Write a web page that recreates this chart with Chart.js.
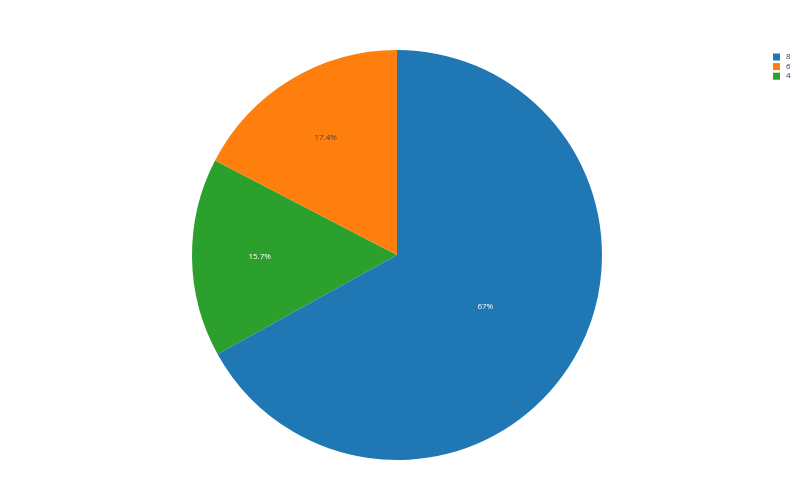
<!DOCTYPE html>
<html>
<head>
<meta charset="utf-8">
<script src="https://cdn.jsdelivr.net/npm/chart.js@4/dist/chart.umd.min.js"></script>
<style>
html,body{margin:0;padding:0;background:#fff;}
#wrap{width:800px;height:500px;position:relative;}
</style>
</head>
<body>
<div id="wrap"><canvas id="c" width="800" height="500"></canvas></div>
<script>
const categories = ["8", "6", "4"];
const values = [4943.4, 1283.2, 1156.5];
const colors = ["#1f77b4", "#ff7f0e", "#2ca02c"];
const textColors = ["#ffffff", "#444444", "#ffffff"];

const total = values.reduce((a, b) => a + b, 0);
// draw order (clockwise) so that first category starts at 12 o'clock, others follow counterclockwise
const drawCats = categories.slice().reverse();
const drawVals = values.slice().reverse();
const drawCols = colors.slice().reverse();
const drawText = textColors.slice().reverse();
const rot = -(total - values[0]) / total * 360;

function pctLabel(v) {
  const p = v / total * 100;
  const r = Math.round(p * 10) / 10;
  return (Math.abs(r - Math.round(r)) < 1e-9 ? Math.round(r).toString() : r.toFixed(1)) + "%";
}

const labelPlugin = {
  id: 'pieLabels',
  afterDatasetsDraw(chart) {
    const ctx = chart.ctx;
    const meta = chart.getDatasetMeta(0);
    ctx.save();
    ctx.font = '8px "Open Sans", Arial, sans-serif';
    ctx.textAlign = 'center';
    ctx.textBaseline = 'middle';
    meta.data.forEach((arc, i) => {
      const frac = drawVals[i] / total;
      const mid = (arc.startAngle + arc.endAngle) / 2;
      const rf = frac < 0.25 ? 0.67 : 0.5;
      const x = arc.x + Math.cos(mid) * arc.outerRadius * rf;
      const y = arc.y + Math.sin(mid) * arc.outerRadius * rf;
      ctx.fillStyle = drawText[i];
      ctx.fillText(pctLabel(drawVals[i]), x, y);
    });
    ctx.restore();
  }
};

const legendPlugin = {
  id: 'customLegend',
  afterDraw(chart) {
    const ctx = chart.ctx;
    ctx.save();
    ctx.font = '8px "Open Sans", Arial, sans-serif';
    ctx.textBaseline = 'middle';
    ctx.textAlign = 'left';
    categories.forEach((c, i) => {
      const cy = 57 + i * 9.6;
      ctx.fillStyle = colors[i];
      ctx.fillRect(773, cy - 3.5, 7, 7);
      ctx.fillStyle = '#2a3f5f';
      ctx.fillText(c, 786, cy);
    });
    ctx.restore();
  }
};

new Chart(document.getElementById('c'), {
  type: 'pie',
  data: {
    labels: drawCats,
    datasets: [{
      data: drawVals,
      backgroundColor: drawCols,
      borderWidth: 0,
      hoverOffset: 0
    }]
  },
  options: {
    responsive: false,
    animation: false,
    rotation: rot,
    layout: { padding: { left: 192, right: 198, top: 50, bottom: 40 } },
    plugins: {
      legend: { display: false },
      tooltip: { enabled: false }
    }
  },
  plugins: [labelPlugin, legendPlugin]
});
</script>
</body>
</html>
